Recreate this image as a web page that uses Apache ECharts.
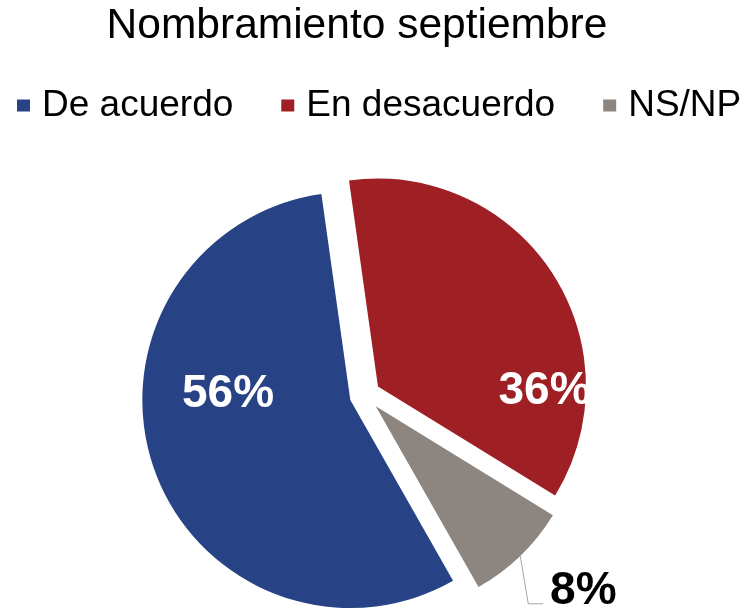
<!DOCTYPE html>
<html>
<head>
<meta charset="utf-8">
<script src="https://cdn.jsdelivr.net/npm/echarts@6/dist/echarts.min.js"></script>
<style>
html,body{margin:0;padding:0;background:#fff;}
#chart{width:753px;height:612px;}
</style>
</head>
<body>
<div id="chart"></div>
<script>
const titleText = 'Nombramiento septiembre';
const categories = ['De acuerdo', 'En desacuerdo', 'NS/NP'];
const values = [56, 36, 8];
const colors = ['#274385', '#9e1f24', '#8c8580'];
const labelColors = ['#ffffff', '#ffffff', '#000000'];
// label nudges (styling only)
const labelNudge = [[-21, -40], [77, 63], [-8, 14]];

const FONT = '"Liberation Sans", Arial, sans-serif';

const chart = echarts.init(document.getElementById('chart'), null, {renderer: 'canvas'});

const data = categories.map((c, i) => ({
  name: c,
  value: values[i],
  selected: true,
  itemStyle: {color: colors[i]},
  select: {itemStyle: {color: colors[i]}},
  label: {
    position: i === 2 ? 'outside' : 'inside',
    color: labelColors[i]
  }
}));

chart.setOption({
  animation: false,
  backgroundColor: '#ffffff',
  title: {
    text: titleText,
    left: 352,
    textAlign: 'center',
    top: 0,
    textStyle: {fontFamily: FONT, fontSize: 42.5, fontWeight: 'normal', color: '#000'}
  },
  legend: {
    data: categories,
    left: 12,
    top: 82,
    icon: 'rect',
    itemWidth: 13,
    itemHeight: 12,
    itemGap: 48,
    selectedMode: false,
    textStyle: {fontFamily: FONT, fontSize: 37, color: '#000', padding: [0, 0, 0, 7]}
  },
  series: [{
    type: 'pie',
    center: [365, 395],
    radius: 208,
    startAngle: 299.6,
    clockwise: true,
    selectedMode: 'multiple',
    selectedOffset: 15.5,
    avoidLabelOverlap: false,
    emphasis: {scale: false, disabled: true},
    label: {
      show: true,
      formatter: '{d}%',
      fontFamily: FONT,
      fontSize: 46,
      fontWeight: 'bold'
    },
    labelLine: {show: true, length: 30, length2: 12, lineStyle: {color: '#a6a6a6', width: 1}},
    labelLayout: function (p) {
      const n = labelNudge[p.dataIndex];
      const out = {dx: n[0], dy: n[1]};
      if (p.dataIndex === 2 && p.labelLinePoints) {
        const p0 = p.labelLinePoints[0];
        out.labelLinePoints = [
          [p0[0], p0[1]],
          [p0[0] + 8, p0[1] + 48],
          [p0[0] + 23, p0[1] + 48]
        ];
      }
      return out;
    },
    data: data
  }]
});
</script>
</body>
</html>
